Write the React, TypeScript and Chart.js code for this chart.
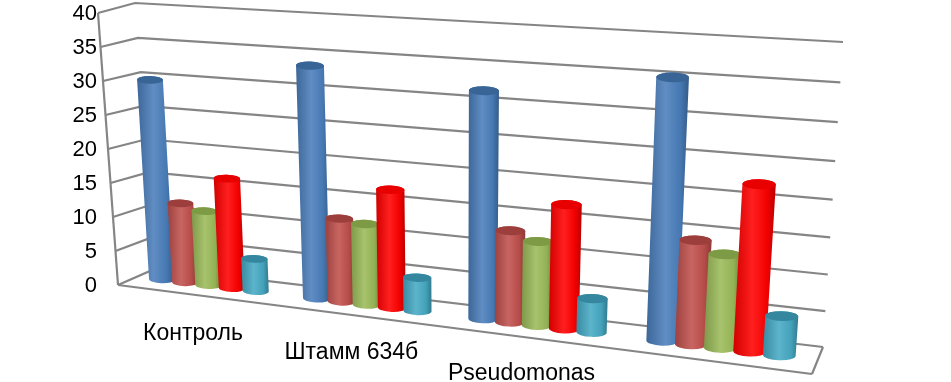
import React, { useEffect, useRef } from "react";
import { Chart, registerables } from "chart.js";

Chart.register(...registerables);

const categories = ["Контроль", "Штамм 634б", "Pseudomonas", ""];
const seriesBlue = [30, 33.7, 32, 35.5];
const seriesBrown = [12.1, 12.3, 13.1, 14.4];
const seriesGreen = [11.3, 11.9, 12, 12.9];
const seriesRed = [16.5, 17.2, 17.5, 22.6];
const seriesCyan = [4.9, 4.9, 4.8, 5.4];

type Pt = [number, number];
type Hom = (u: number, v: number) => Pt;

// unit square -> quad (bottom-left, bottom-right, top-right, top-left)
function makeHomography(q: Pt[]): Hom {
  const [[x0, y0], [x1, y1], [x2, y2], [x3, y3]] = q;
  const dx1 = x1 - x2, dx2 = x3 - x2, dx3 = x0 - x1 + x2 - x3;
  const dy1 = y1 - y2, dy2 = y3 - y2, dy3 = y0 - y1 + y2 - y3;
  const den = dx1 * dy2 - dx2 * dy1;
  const g = (dx3 * dy2 - dx2 * dy3) / den;
  const h = (dx1 * dy3 - dx3 * dy1) / den;
  const a = x1 - x0 + g * x1, b = x3 - x0 + h * x3, c = x0;
  const d = y1 - y0 + g * y1, e = y3 - y0 + h * y3, f = y0;
  return (u, v) => {
    const w = g * u + h * v + 1;
    return [(a * u + b * v + c) / w, (d * u + e * v + f) / w];
  };
}

const backWall = makeHomography([[157, 268], [823, 347], [843, 42], [135, 3]]);
const barPlane = makeHomography([[133, 276], [817, 360], [839, 52], [116, 8]]);
const frontLeftBottom: Pt = [118, 285];
const frontLeftTop: Pt = [98, 13];
const frontRightBottom: Pt = [812, 374];

const GRID = "#858585";

function shade(hex: string, k: number): string {
  const n = parseInt(hex.slice(1), 16);
  const c = [(n >> 16) & 255, (n >> 8) & 255, n & 255].map((v) =>
    Math.max(0, Math.min(255, Math.round(k >= 1 ? v + (255 - v) * (k - 1) : v * k)))
  );
  return `rgb(${c[0]},${c[1]},${c[2]})`;
}

const perspectivePlugin = {
  id: "perspective",
  beforeDatasetsDraw(chart: any) {
    const { ctx, chartArea: ca, scales } = chart;
    const toU = (x: number) => (x - ca.left) / (ca.right - ca.left);
    const toV = (y: number) => (ca.bottom - y) / (ca.bottom - ca.top);
    const line = (a: Pt, b: Pt) => {
      ctx.beginPath();
      ctx.moveTo(a[0], a[1]);
      ctx.lineTo(b[0], b[1]);
      ctx.stroke();
    };

    ctx.save();
    ctx.strokeStyle = GRID;
    ctx.lineWidth = 2.2;
    ctx.lineJoin = "miter";
    const yScale = scales.y;
    for (const tick of yScale.ticks) {
      const v = toV(yScale.getPixelForValue(tick.value));
      const front: Pt = [
        frontLeftBottom[0] + (frontLeftTop[0] - frontLeftBottom[0]) * v,
        frontLeftBottom[1] + (frontLeftTop[1] - frontLeftBottom[1]) * v,
      ];
      const backL = backWall(0, v);
      const backR = backWall(1, v);
      ctx.beginPath();
      ctx.moveTo(front[0], front[1]);
      ctx.lineTo(backL[0], backL[1]);
      ctx.lineTo(backR[0], backR[1]);
      ctx.stroke();
    }
    line(frontLeftBottom, frontLeftTop);
    line(frontLeftBottom, frontRightBottom);
    line(frontRightBottom, backWall(1, 0));

    // category labels follow the sloping floor
    ctx.fillStyle = "#000";
    ctx.font = "23px 'Liberation Sans'";
    ctx.textAlign = "center";
    ctx.textBaseline = "middle";
    const xScale = scales.x;
    chart.data.labels.forEach((label: string, i: number) => {
      const p = barPlane(toU(xScale.getPixelForTick(i)), 0);
      ctx.fillText(label, p[0] - 15, p[1] + 48);
    });

    // cylinders, back to front, from the library's own bar elements
    chart.data.labels.forEach((_: string, i: number) => {
      chart.data.datasets.forEach((ds: any, d: number) => {
        const el = chart.getDatasetMeta(d).data[i];
        const u0 = toU(el.x - el.width / 2);
        const u1 = toU(el.x + el.width / 2);
        const vTop = toV(el.y);
        const vBase = toV(el.base);
        const bl = barPlane(u0, vBase), br = barPlane(u1, vBase);
        const tl = barPlane(u0, vTop), tr = barPlane(u1, vTop);
        const color: string = ds.backgroundColor;

        const ellipseParams = (a: Pt, b: Pt) => {
          const rx = Math.hypot(b[0] - a[0], b[1] - a[1]) / 2;
          return {
            cx: (a[0] + b[0]) / 2,
            cy: (a[1] + b[1]) / 2,
            rx,
            ry: rx * 0.3,
            rot: Math.atan2(b[1] - a[1], b[0] - a[0]) * 0.3,
          };
        };
        const eb = ellipseParams(bl, br);
        const et = ellipseParams(tl, tr);

        const grad = ctx.createLinearGradient(
          Math.min(tl[0], bl[0]), 0, Math.max(tr[0], br[0]), 0
        );
        grad.addColorStop(0, shade(color, 0.82));
        grad.addColorStop(0.45, shade(color, 1.12));
        grad.addColorStop(0.8, shade(color, 0.95));
        grad.addColorStop(1, shade(color, 0.72));
        ctx.fillStyle = grad;
        ctx.beginPath();
        ctx.ellipse(eb.cx, eb.cy, eb.rx, eb.ry, eb.rot, Math.PI, 0, true);
        ctx.ellipse(et.cx, et.cy, et.rx, et.ry, et.rot, 0, Math.PI, true);
        ctx.closePath();
        ctx.fill();

        ctx.fillStyle = ds.capColor;
        ctx.beginPath();
        ctx.ellipse(et.cx, et.cy, et.rx, et.ry, et.rot, 0, Math.PI * 2);
        ctx.fill();
      });
    });
    ctx.restore();
    return false;
  },
};

export default function App() {
  const ref = useRef<HTMLCanvasElement>(null);
  useEffect(() => {
    const chart = new Chart(ref.current as HTMLCanvasElement, {
      type: "bar",
      data: {
        labels: categories,
        datasets: [
          { label: "Ряд 1", data: seriesBlue, backgroundColor: "#4a7ebb", capColor: "#386496" },
          { label: "Ряд 2", data: seriesBrown, backgroundColor: "#c0504d", capColor: "#9c3f3c" },
          { label: "Ряд 3", data: seriesGreen, backgroundColor: "#9bbb59", capColor: "#7d9a45" },
          { label: "Ряд 4", data: seriesRed, backgroundColor: "#ff0000", capColor: "#e80000" },
          { label: "Ряд 5", data: seriesCyan, backgroundColor: "#46aac4", capColor: "#34879f" },
        ] as any,
      },
      options: {
        animation: false,
        responsive: false,
        layout: { padding: { left: 70, right: 101, top: 12, bottom: 96 } },
        plugins: { legend: { display: false }, tooltip: { enabled: false } },
        datasets: { bar: { categoryPercentage: 0.77, barPercentage: 1.08 } },
        scales: {
          x: { display: false },
          y: {
            min: 0,
            max: 40,
            afterFit: (s: any) => { s.width = 30; },
            grid: { display: false, drawTicks: false },
            border: { display: false },
            ticks: {
              stepSize: 5,
              padding: 3,
              color: "#000",
              font: { family: "'Liberation Sans'", size: 22, lineHeight: 1 },
            },
          },
        },
      },
      plugins: [perspectivePlugin],
    } as any);
    return () => chart.destroy();
  }, []);
  return (
    <div style={{ position: "absolute", left: 0, top: 0, width: 951, height: 382, overflow: "hidden", background: "#fff" }}>
      <canvas ref={ref} width={951} height={382} style={{ display: "block" }} />
    </div>
  );
}
